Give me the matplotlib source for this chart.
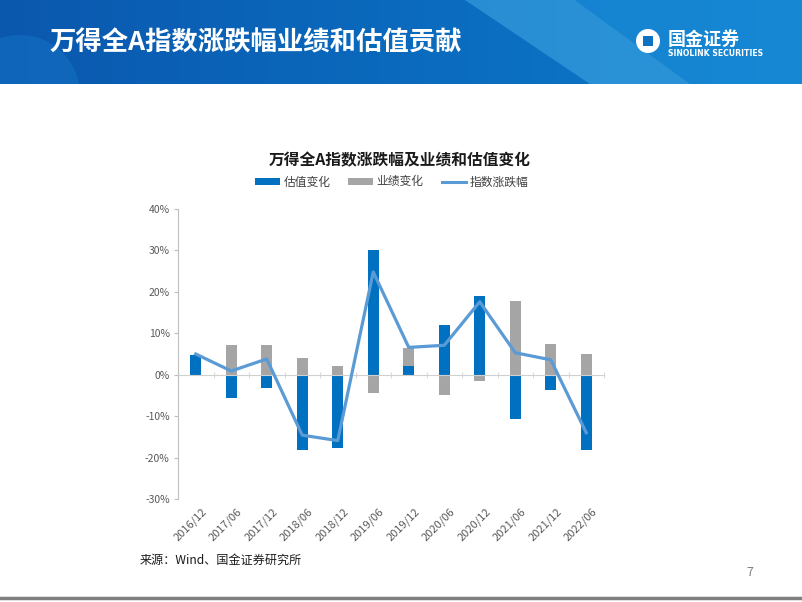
import numpy as np
import matplotlib
matplotlib.use('Agg')
import matplotlib.pyplot as plt
from matplotlib.patches import Patch, Polygon, Circle, Rectangle
from matplotlib.lines import Line2D
from matplotlib.transforms import blended_transform_factory

plt.rcParams['font.family'] = ['Noto Sans CJK SC', 'DejaVu Sans']

# data (percent)
periods = ['2016/12', '2017/06', '2017/12', '2018/06', '2018/12', '2019/06',
           '2019/12', '2020/06', '2020/12', '2021/06', '2021/12', '2022/06']
valuation = [4.7, -5.6, -3.3, -18.1, -17.7, 30.2, 2.1, 12.0, 19.0, -10.6, -3.8, -18.1]
earnings = [0.0, 7.1, 7.1, 4.0, 2.1, -4.4, 4.3, -4.9, -1.6, 17.9, 7.4, 5.1]
index_chg = [5.0, 0.9, 3.8, -14.6, -15.9, 24.8, 6.6, 7.1, 17.6, 5.3, 3.6, -14.0]
yticks = [-30, -20, -10, 0, 10, 20, 30, 40]

c_blue = '#0070C0'
c_gray = '#A5A5A5'
c_line = '#5B9BD5'

W, H = 802, 602
fig = plt.figure(figsize=(W / 100, H / 100), dpi=100)

# header band
hdr = fig.add_axes([0, 1 - 84 / H, 1, 84 / H])
hdr.set_xlim(0, W)
hdr.set_ylim(84, 0)
hdr.axis('off')
grad = np.linspace(0, 1, 256)
c0 = np.array([0x0a, 0x58, 0xae]) / 255
c1 = np.array([0x0c, 0x7c, 0xcc]) / 255
img = (c0[None, :] * (1 - grad[:, None]) + c1[None, :] * grad[:, None])[None, :, :]
hdr.imshow(img, extent=[0, W, 84, 0], aspect='auto', zorder=0)
hdr.add_patch(Circle((20, 95), 60, facecolor='#1a7fcf', alpha=0.35, lw=0, zorder=1))
hdr.add_patch(Polygon([[465, 0], [575, 0], [690, 84], [590, 84]], closed=True,
                      facecolor='#4fb6ec', alpha=0.45, lw=0, zorder=1))
hdr.add_patch(Polygon([[575, 0], [W, 0], [W, 84], [690, 84]], closed=True,
                      facecolor='#1d90da', alpha=0.6, lw=0, zorder=1))
hdr.text(49, 43, '万得全A指数涨跌幅业绩和估值贡献', color='white', fontsize=19,
         fontweight='bold', va='center', ha='left', zorder=3)
hdr.add_patch(Circle((648, 41), 12, facecolor='white', lw=0, zorder=3))
hdr.add_patch(Rectangle((643, 36), 10, 10, facecolor='#0c72c4', lw=0, zorder=4))
hdr.text(668, 39, '国金证券', color='white', fontsize=13, fontweight='bold',
         va='center', ha='left', zorder=3)
hdr.text(668, 53, 'SINOLINK SECURITIES', color='white', fontsize=5.6,
         fontweight='bold', va='center', ha='left', zorder=3, family='DejaVu Sans')

# chart title and legend
fig.text(400 / W, 1 - 160 / H, '万得全A指数涨跌幅及业绩和估值变化', fontsize=11.3,
         fontweight='bold', ha='center', va='center', color='#1a1a1a')
handles = [Patch(facecolor=c_blue, label='估值变化'),
           Patch(facecolor=c_gray, label='业绩变化'),
           Line2D([0], [0], color=c_line, lw=2.2, label='指数涨跌幅')]
fig.legend(handles=handles, loc='center', bbox_to_anchor=(392 / W, 1 - 182 / H), ncol=3,
           frameon=False, fontsize=8.5, handlelength=2.1, handleheight=0.55,
           columnspacing=1.5, handletextpad=0.3, labelcolor='#404040')

# main chart
ax = fig.add_axes([178 / W, 1 - 499 / H, 426 / W, 290 / H])
x = np.arange(len(periods))
val = np.array(valuation)
ear = np.array(earnings)
ear_bottom = np.where(ear >= 0, np.maximum(val, 0), np.minimum(val, 0))
ax.bar(x, val, width=0.3, color=c_blue, zorder=2)
ax.bar(x, ear, width=0.3, bottom=ear_bottom, color=c_gray, zorder=2)
ax.plot(x, index_chg, color=c_line, lw=2.3, zorder=3)

ax.set_xlim(-0.5, len(periods) - 0.5)
ax.set_ylim(-30, 40)
ax.set_yticks(yticks)
ax.set_yticklabels([f'{v}%' for v in yticks])
ax.tick_params(axis='y', labelsize=7.5, colors='#bfbfbf', length=3, width=0.8, pad=3)
for lbl in ax.get_yticklabels():
    lbl.set_color('#595959')

for s in ['top', 'right']:
    ax.spines[s].set_visible(False)
ax.spines['left'].set_color('#bfbfbf')
ax.spines['bottom'].set_position(('data', 0))
ax.spines['bottom'].set_color('#d0d0d0')
ax.set_xticks(np.arange(len(periods) + 1) - 0.5)
ax.set_xticklabels([])
ax.tick_params(axis='x', length=4, color='#d9d9d9', direction='inout')

tr = blended_transform_factory(ax.transData, ax.transAxes)
for xi, p in zip(x, periods):
    ax.text(xi + 0.15, -0.025, p, transform=tr, rotation=45, ha='right', va='top',
            fontsize=8, color='#595959', rotation_mode='anchor')

# footer
fig.text(140 / W, 1 - 560 / H, '来源：Wind、国金证券研究所', fontsize=8.7, style='italic',
         ha='left', va='center', color='#1a1a1a')
fig.text(750 / W, 1 - 572 / H, '7', fontsize=9, ha='center', va='center', color='#7f7f7f')
fig.add_artist(Line2D([0, 1], [1 - 598 / H, 1 - 598 / H], color='#7f7f7f', lw=2.5))

fig.savefig('out.png', dpi=100)
